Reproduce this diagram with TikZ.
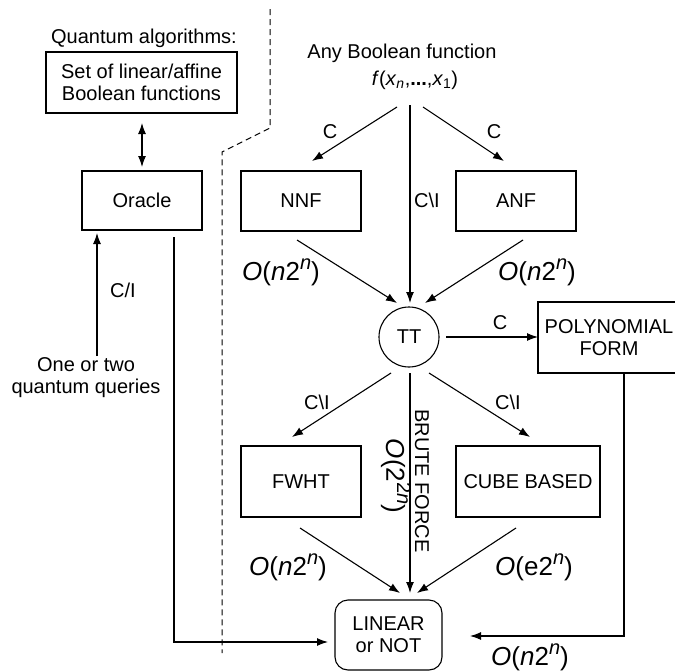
\documentclass[tikz,border=0pt]{standalone}
\usepackage{fontspec}
\setmainfont{Liberation Sans}
\usetikzlibrary{arrows.meta}
\newcommand{\lblfont}{\fontsize{20}{22}\selectfont}
\newcommand{\cpxfont}{\fontsize{26}{28}\selectfont}
\newcommand{\supn}[1]{\raisebox{0.42em}{\fontsize{20}{20}\selectfont #1}}
\begin{document}
\begin{tikzpicture}[x=1pt,y=-1pt,
  every node/.style={inner sep=0pt, outer sep=0pt},
  box/.style={draw, line width=1.1pt, align=center, font=\lblfont},
  lbl/.style={font=\lblfont, align=center},
  cpx/.style={font=\cpxfont},
  conn/.style={line width=1.1pt, -{Latex[length=11pt,width=8pt]}},
  sep/.style={line width=1pt, dash pattern=on 6pt off 4pt}
]
\useasboundingbox (0,0) rectangle (675,672);

% separator
\coordinate (d1) at (270,9);
\coordinate (d2) at (270,128);
\coordinate (d3) at (222,152);
\coordinate (d4) at (222,653);
\draw[sep] (d1) -- (d2) -- (d3) -- (d4);

% left side
\node[lbl] (qalg) at (144,38) {Quantum algorithms:};
\node[box, minimum width=191pt, minimum height=61pt] (setbox) at (141.5,82.5) {Set of linear/affine\\Boolean functions};
\node[box, minimum width=120pt, minimum height=59pt] (oracle) at (142,200.5) {Oracle};
\coordinate (sb) at (142,123);
\coordinate (ot) at (142,167);
\draw[line width=1.1pt, {Latex[length=11pt,width=8pt]}-{Latex[length=11pt,width=8pt]}] (sb) -- (ot);
\node[lbl] (queries) at (86,377.5) {One or two\\quantum queries};
\coordinate (qs) at (97,356);
\coordinate (qe) at (97,233);
\draw[conn] (qs) -- (qe);
\node[lbl] (cil) at (123,290) {C/I};
\coordinate (os) at (174,237);
\coordinate (oc) at (174,642);
\coordinate (oe) at (328,642);
\draw[conn] (os) -- (oc) -- (oe);

% right side top
\node[lbl] (anyb) at (402,53) {Any Boolean function};
\node[lbl] (fx) at (415,80) {\textit{f}(\textit{x}\textsubscript{\textit{n}},\textbf{...},\textit{x}\textsubscript{1})};
\node[box, minimum width=120pt, minimum height=60pt] (nnf) at (301,201) {NNF};
\node[box, minimum width=120pt, minimum height=60pt] (anf) at (516,201) {ANF};
\node[draw, circle, line width=1.1pt, minimum size=60pt, font=\lblfont] (tt) at (409,337) {TT};
\node[draw, line width=1.1pt, minimum width=172pt, minimum height=71pt] (poly) at (624,337.5) {};
\node[lbl] (polytxt) at (609,337.5) {POLYNOMIAL\\FORM};
\node[box, minimum width=120pt, minimum height=71pt] (fwht) at (301,481.5) {FWHT};
\node[box, minimum width=144pt, minimum height=71pt] (cube) at (528,481.5) {CUBE BASED};
\node[box, rounded corners=13pt, minimum width=107pt, minimum height=70pt] (lin) at (388.5,635) {LINEAR\\or NOT};

% arrows from f
\coordinate (f1) at (397,107);
\coordinate (f1e) at (312,161);
\coordinate (f2) at (410,105);
\coordinate (f2e) at (410,303);
\coordinate (f3) at (423,107);
\coordinate (f3e) at (504,161);
\draw[conn] (f1) -- (f1e);
\draw[conn] (f2) -- (f2e);
\draw[conn] (f3) -- (f3e);
\node[lbl] (c1) at (330,132) {C};
\node[lbl] (c2) at (494,132) {C};
\node[lbl] (c3) at (427,200) {C\textbackslash I};

% into TT
\coordinate (n1) at (297,240);
\coordinate (n1e) at (397,303);
\coordinate (a1) at (523,240);
\coordinate (a1e) at (425,303);
\draw[conn] (n1) -- (n1e);
\draw[conn] (a1) -- (a1e);
\node[cpx] (k1) at (281,272) {\textit{O}(\textit{n}2\supn{\textit{n}})};
\node[cpx] (k2) at (537,272) {\textit{O}(\textit{n}2\supn{\textit{n}})};

% TT to poly
\coordinate (t1) at (446,337);
\coordinate (t1e) at (538,337);
\draw[conn] (t1) -- (t1e);
\node[lbl] (c4) at (500,323) {C};

% TT down
\coordinate (t2) at (391,373);
\coordinate (t2e) at (292,437);
\coordinate (t3) at (429,373);
\coordinate (t3e) at (530,437);
\coordinate (t4) at (410,373);
\coordinate (t4e) at (410,593);
\draw[conn] (t2) -- (t2e);
\draw[conn] (t3) -- (t3e);
\draw[conn] (t4) -- (t4e);
\node[lbl] (c5) at (317,402) {C\textbackslash I};
\node[lbl] (c6) at (508,402) {C\textbackslash I};
\node[lbl, rotate=-90] (bf) at (422,481) {BRUTE FORCE};
\node[cpx, rotate=-90] (k3) at (396,476) {\textit{O}(2\supn{2\textit{n}})};

% into LINEAR
\coordinate (w1) at (300,528);
\coordinate (w1e) at (400,593);
\coordinate (u1) at (516,528);
\coordinate (u1e) at (417,593);
\draw[conn] (w1) -- (w1e);
\draw[conn] (u1) -- (u1e);
\node[cpx] (k4) at (288,567) {\textit{O}(\textit{n}2\supn{\textit{n}})};
\node[cpx] (k5) at (534,567) {\textit{O}(e2\supn{\textit{n}})};

% poly to LINEAR
\coordinate (p1) at (624,373);
\coordinate (p1c) at (624,636);
\coordinate (p1e) at (470,636);
\draw[conn] (p1) -- (p1c) -- (p1e);
\node[cpx] (k6) at (530,657) {\textit{O}(\textit{n}2\supn{\textit{n}})};
\end{tikzpicture}
\end{document}
